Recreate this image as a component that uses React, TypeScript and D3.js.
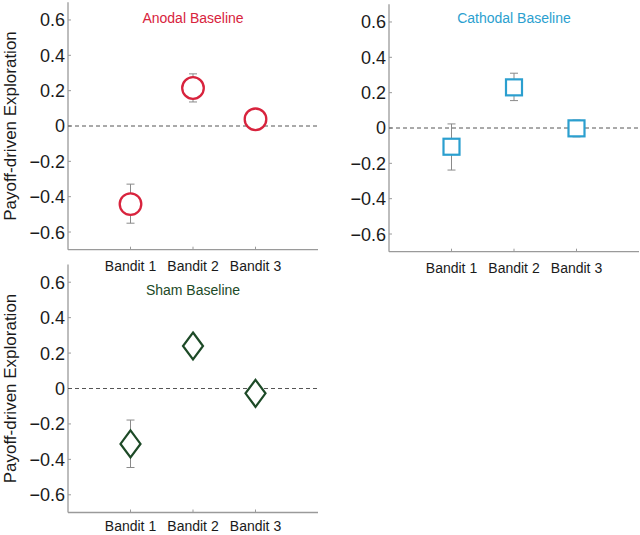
import React, { useEffect, useRef } from 'react';
import * as d3 from 'd3';

const categories = ['Bandit 1', 'Bandit 2', 'Bandit 3'];
const yTicks = [-0.6, -0.4, -0.2, 0, 0.2, 0.4, 0.6];

const anodalMean = [-0.442, 0.215, 0.038];
const anodalLow = [-0.55, 0.136, 0.02];
const anodalHigh = [-0.329, 0.295, 0.055];

const cathodalMean = [-0.106, 0.23, -0.002];
const cathodalLow = [-0.238, 0.155, -0.05];
const cathodalHigh = [0.023, 0.31, 0.045];

const shamMean = [-0.313, 0.24, -0.027];
const shamLow = [-0.446, 0.2, -0.06];
const shamHigh = [-0.178, 0.28, 0.005];

type Marker = 'circle' | 'square' | 'diamond';

interface PanelSpec {
  title: string;
  color: string;
  marker: Marker;
  mean: number[];
  low: number[];
  high: number[];
  x0: number;
  x1: number;
  yBottom: number;
  yTop: number;
  titleY: number;
  labelDy: number;
  showYLabel: boolean;
}

const panels: PanelSpec[] = [
  { title: 'Anodal Baseline', color: '#d8233d', marker: 'circle', mean: anodalMean, low: anodalLow, high: anodalHigh,
    x0: 68, x1: 318, yBottom: 249.7, yTop: 2.3, titleY: 23.3, labelDy: 21.5, showYLabel: true },
  { title: 'Cathodal Baseline', color: '#2b9fcf', marker: 'square', mean: cathodalMean, low: cathodalLow, high: cathodalHigh,
    x0: 389, x1: 639, yBottom: 251.7, yTop: 4.3, titleY: 23.3, labelDy: 21.5, showYLabel: false },
  { title: 'Sham Baseline', color: '#1d4a27', marker: 'diamond', mean: shamMean, low: shamLow, high: shamHigh,
    x0: 68, x1: 318, yBottom: 512.5, yTop: 264.5, titleY: 295, labelDy: 18.5, showYLabel: true },
];

const FONT = '"Liberation Sans", Arial, Helvetica, sans-serif';
const AXIS_COLOR = '#9a9a9a';

const App: React.FC = () => {
  const svgRef = useRef<SVGSVGElement>(null);

  useEffect(() => {
    if (!svgRef.current) return;
    const svg = d3.select(svgRef.current);
    svg.selectAll('*').remove();

    panels.forEach(p => {
      const x = d3.scaleLinear().domain([0, 4]).range([p.x0, p.x1]);
      const y = d3.scaleLinear().domain([-0.7, 0.7]).range([p.yBottom, p.yTop]);
      const g = svg.append('g');

      // axes lines
      g.append('line')
        .attr('x1', p.x0).attr('x2', p.x0)
        .attr('y1', p.yTop).attr('y2', p.yBottom)
        .style('stroke', AXIS_COLOR).style('stroke-width', 1.3);
      g.append('line')
        .attr('x1', p.x0).attr('x2', p.x1)
        .attr('y1', p.yBottom).attr('y2', p.yBottom)
        .style('stroke', AXIS_COLOR).style('stroke-width', 1.3);

      // y ticks + labels
      yTicks.forEach(t => {
        g.append('line')
          .attr('x1', p.x0).attr('x2', p.x0 + 3)
          .attr('y1', y(t)).attr('y2', y(t))
          .style('stroke', AXIS_COLOR);
        g.append('text')
          .attr('x', p.x0 - 3)
          .attr('y', y(t))
          .attr('dy', '0.36em')
          .style('text-anchor', 'end')
          .style('font-family', FONT)
          .style('font-size', '18px')
          .style('fill', '#1a1a1a')
          .text(t === 0 ? '0' : (t < 0 ? '\u2212' : '') + Math.abs(t).toFixed(1));
      });

      // x ticks + labels
      categories.forEach((c, i) => {
        g.append('line')
          .attr('x1', x(i + 1)).attr('x2', x(i + 1))
          .attr('y1', p.yBottom).attr('y2', p.yBottom - 3)
          .style('stroke', AXIS_COLOR);
        g.append('text')
          .attr('x', x(i + 1))
          .attr('y', p.yBottom + p.labelDy)
          .style('text-anchor', 'middle')
          .style('font-family', FONT)
          .style('font-size', '14px')
          .style('fill', '#1a1a1a')
          .text(c);
      });

      // zero line
      g.append('line')
        .attr('x1', p.x0).attr('x2', p.x1)
        .attr('y1', y(0)).attr('y2', y(0))
        .style('stroke', '#555')
        .style('stroke-width', 1)
        .style('stroke-dasharray', '4,3');

      // title
      g.append('text')
        .attr('x', x(2))
        .attr('y', p.titleY)
        .style('text-anchor', 'middle')
        .style('font-family', FONT)
        .style('font-size', '14px')
        .style('fill', p.color)
        .text(p.title);

      if (p.showYLabel) {
        const cy = (p.yTop + p.yBottom) / 2;
        g.append('text')
          .attr('transform', `translate(16,${cy}) rotate(-90)`)
          .style('text-anchor', 'middle')
          .style('font-family', FONT)
          .style('font-size', '17px')
          .style('fill', '#1a1a1a')
          .text('Payoff-driven Exploration');
      }

      // error bars
      p.mean.forEach((_, i) => {
        const cx = x(i + 1);
        g.append('line')
          .attr('x1', cx).attr('x2', cx)
          .attr('y1', y(p.low[i])).attr('y2', y(p.high[i]))
          .style('stroke', '#8a8a8a').style('stroke-width', 1);
        [p.low[i], p.high[i]].forEach(v => {
          g.append('line')
            .attr('x1', cx - 4).attr('x2', cx + 4)
            .attr('y1', y(v)).attr('y2', y(v))
            .style('stroke', '#8a8a8a').style('stroke-width', 1);
        });
      });

      // markers
      p.mean.forEach((v, i) => {
        const cx = x(i + 1);
        const cy = y(v);
        if (p.marker === 'circle') {
          g.append('circle')
            .attr('cx', cx).attr('cy', cy).attr('r', 10.8)
            .style('fill', '#fff').style('stroke', p.color).style('stroke-width', 2.3);
        } else if (p.marker === 'square') {
          g.append('rect')
            .attr('x', cx - 8).attr('y', cy - 8)
            .attr('width', 16).attr('height', 16)
            .style('fill', '#fff').style('stroke', p.color).style('stroke-width', 2.2);
        } else {
          const pts: [number, number][] = [[cx, cy - 13.5], [cx + 10, cy], [cx, cy + 13.5], [cx - 10, cy]];
          g.append('path')
            .attr('d', d3.line()(pts) + 'Z')
            .style('fill', '#fff').style('stroke', p.color).style('stroke-width', 2.2);
        }
      });
    });
  }, []);

  return (
    <svg
      ref={svgRef}
      width={640}
      height={535}
      style={{ position: 'absolute', left: 0, top: 0, background: '#fff' }}
    />
  );
};

export default App;
